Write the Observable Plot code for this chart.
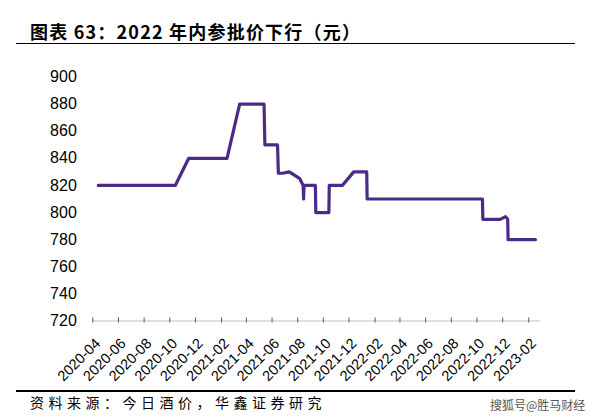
<!DOCTYPE html>
<html>
<head>
<meta charset="utf-8">
<script src="https://cdn.jsdelivr.net/npm/d3@7"></script>
<script src="https://cdn.jsdelivr.net/npm/@observablehq/plot@0.6"></script>
<style>
  html, body { margin: 0; padding: 0; background: #fff; }
  #wrap { position: relative; width: 600px; height: 420px; overflow: hidden; background: #fff; }
  #title { position: absolute; left: 30px; top: 19px; font-family: "Noto Sans CJK SC", sans-serif; font-weight: bold; font-size: 18px; line-height: 24px; color: #000; letter-spacing: 1.2px; white-space: nowrap; }
  #topline { position: absolute; left: 16px; top: 43px; width: 559px; height: 1.2px; background: #000; }
  #chart { position: absolute; left: 0; top: 50px; }
  #botline { position: absolute; left: 16px; top: 389.5px; width: 559px; height: 2px; background: #000; }
  #source { position: absolute; left: 30px; top: 392px; font-family: "Noto Sans CJK SC", sans-serif; font-size: 14px; line-height: 20px; color: #000; letter-spacing: 4.5px; white-space: nowrap; }
  #wm { position: absolute; left: 490px; top: 397px; font-family: "Noto Sans CJK SC", sans-serif; font-size: 12px; line-height: 16px; color: #555; white-space: nowrap; }
</style>
</head>
<body>
<div id="wrap">
  <div id="title">图表 63：2022 年内参批价下行（元）</div>
  <div id="topline"></div>
  <div id="chart"></div>
  <div id="botline"></div>
  <div id="source">资料来源：今日酒价，华鑫证券研究</div>
  <div id="wm">搜狐号@胜马财经</div>
</div>
<script>
// ---- data ----
const dates = [
  "2020-04-14","2020-10-14","2020-11-15","2021-02-14","2021-03-16",
  "2021-05-13","2021-05-15","2021-06-14","2021-06-16","2021-06-26",
  "2021-07-12","2021-08-06","2021-08-14","2021-08-15","2021-08-16",
  "2021-09-12","2021-09-13","2021-10-14","2021-10-15","2021-11-15",
  "2021-12-12","2022-01-12","2022-01-13","2022-10-14","2022-10-15",
  "2022-11-25","2022-12-08","2022-12-13","2022-12-14","2023-02-17"
];
const prices = [
  820, 820, 840, 840, 880,
  880, 850, 850, 829, 829,
  830, 825, 820, 810, 820,
  820, 800, 800, 820, 820,
  830, 830, 810, 810, 795,
  795, 797, 795, 780, 780
];
const xTicks = ["2020-04","2020-06","2020-08","2020-10","2020-12","2021-02","2021-04","2021-06","2021-08",
                "2021-10","2021-12","2022-02","2022-04","2022-06","2022-08","2022-10","2022-12","2023-02"];
const yTicks = [720, 740, 760, 780, 800, 820, 840, 860, 880, 900];
const xDomain = ["2020-04-01", "2023-03-01"];

// ---- build ----
const parseDay = d3.utcParse("%Y-%m-%d");
const parseMonth = d3.utcParse("%Y-%m");
const data = dates.map((d, i) => ({date: parseDay(d), price: prices[i]}));
const tickDates = xTicks.map(parseMonth);

const chart = Plot.plot({
  width: 600,
  height: 338,
  marginLeft: 92.3,
  marginRight: 60,
  marginTop: 26.5,
  marginBottom: 67.5,
  x: {type: "utc", domain: xDomain.map(parseDay)},
  y: {domain: [720, 900]},
  style: {fontFamily: "'Liberation Sans', Arial, sans-serif", background: "white", color: "#000"},
  marks: [
    Plot.axisY({ticks: yTicks, tickSize: 0, tickPadding: 16, fontSize: 16, label: null, tickFormat: d => String(d)}),
    Plot.ruleY([720], {stroke: "#bfbfbf", strokeWidth: 1}),
    Plot.axisX({ticks: tickDates, tickSize: 5, dy: -3, tickFormat: () => "", label: null, stroke: "#595959", strokeWidth: 1}),
    Plot.axisX({ticks: tickDates, tickSize: 0, tickPadding: 10, tickRotate: -45, dx: 5, dy: 10, fontSize: 14.5, label: null,
                tickFormat: d3.utcFormat("%Y-%m")}),
    Plot.line(data, {x: "date", y: "price", stroke: "#4a2c86", strokeWidth: 3.2, curve: "linear", strokeLinejoin: "round"})
  ]
});
document.getElementById("chart").appendChild(chart);
</script>
</body>
</html>
